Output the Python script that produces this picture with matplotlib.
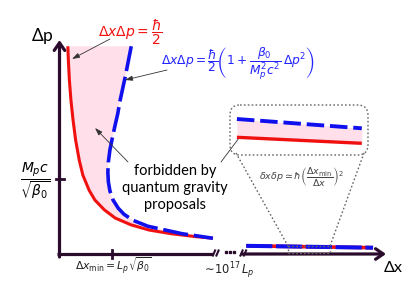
import matplotlib
matplotlib.use('Agg')
import matplotlib.pyplot as plt
from matplotlib.patches import FancyBboxPatch, Rectangle

# ---------------- data (Δx in units of Δx_min, Δp in units of M_p c/sqrt(beta0)) ----------
red_dx = [0.16, 0.17, 0.19, 0.22, 0.26, 0.31, 0.38, 0.45, 0.57, 0.68, 0.86, 1.07, 1.37, 1.72, 2.15, 2.64, 2.95]
red_dp = [2.77, 2.59, 2.32, 2.05, 1.79, 1.52, 1.25, 1.05, 0.85, 0.72, 0.59, 0.48, 0.39, 0.32, 0.27, 0.23, 0.21]

blue_dx = [1.38, 1.32, 1.26, 1.21, 1.16, 1.12, 1.07, 1.02, 0.97, 0.94, 0.93, 0.94, 0.97, 1.03, 1.13, 1.24,
           1.41, 1.70, 2.03, 2.36, 2.66, 2.95]
blue_dp = [2.77, 2.56, 2.35, 2.19, 2.03, 1.87, 1.72, 1.56, 1.39, 1.23, 1.09, 0.96, 0.84, 0.72, 0.61, 0.53,
           0.45, 0.37, 0.32, 0.27, 0.24, 0.21]

# far region (after the axis break, ~1e17 L_p), in broken-axis display units
far_dx = [3.59, 6.03]
far_red_dp = [0.109, 0.084]
far_blue_dp = [0.109, 0.084]

# zoomed inset (normalised inset units)
inset_x = [0.05, 0.955]
inset_blue = [0.72, 0.534]
inset_red = [0.354, 0.234]

tick_dx = 1.0
tick_dp = 1.0

# ---------------- styling ----------------
W, H = 415, 300
RED = '#f01010'
BLUE = '#1010ee'
AXC = '#2b0b2b'
PINK = '#ffe0ea'
GRAY = '#444444'
plt.rcParams['font.family'] = ['Lato', 'DejaVu Sans']
plt.rcParams['mathtext.fontset'] = 'dejavusans'

fig = plt.figure(figsize=(W / 100, H / 100), dpi=100)

x0px, y0px, ux, uy = 59.5, 254.0, 52.0, 75.0
def X(px):
    return (px - x0px) / ux
def Y(py):
    return (y0px - py) / uy

ax = fig.add_axes([0, 0, 1, 1])
ax.set_axis_off()
ax.set_xlim(X(0), X(W))
ax.set_ylim(Y(H), Y(0))

# forbidden region
poly_x = red_dx + blue_dx[::-1]
poly_y = red_dp + blue_dp[::-1]
ax.fill(poly_x, poly_y, color=PINK, lw=0, zorder=1)
ax.plot(red_dx, red_dp, color=RED, lw=2.2, zorder=3, solid_capstyle='butt')
ax.plot(blue_dx, blue_dp, color=BLUE, lw=2.6, zorder=4, dashes=(7.0, 1.6), dash_capstyle='butt')

ax.plot(far_dx, far_red_dp, color=RED, lw=2.6, zorder=3, solid_capstyle='butt')
ax.plot(far_dx, far_blue_dp, color=BLUE, lw=2.9, zorder=4, dashes=(6.5, 0.9), dash_capstyle='butt')

# axes
ap = dict(arrowstyle='->,head_length=0.55,head_width=0.38', lw=2.3, color=AXC, shrinkA=0, shrinkB=0)
ax.annotate('', xy=(0, Y(40)), xytext=(0, Y(257)), arrowprops=ap, zorder=5)
ax.plot([X(57), X(213)], [0, 0], color=AXC, lw=2.3, zorder=5, solid_capstyle='butt')
ax.annotate('', xy=(X(386), 0), xytext=(X(242), 0), arrowprops=ap, zorder=5)
# ticks
ax.plot([X(55.5), X(63.5)], [tick_dp, tick_dp], color=AXC, lw=2.0, zorder=5)
ax.plot([tick_dx, tick_dx], [Y(250), Y(258)], color=AXC, lw=2.0, zorder=5)

# overlay for decorations
ov = fig.add_axes([0, 0, 1, 1])
ov.set_axis_off()
ov.set_xlim(0, W)
ov.set_ylim(H, 0)
ov.patch.set_alpha(0)

# axis break
for (xa, xb) in [(212.5, 215.5), (216, 219), (240, 243), (243.5, 246.5)]:
    ov.plot([xa, xb], [256.5, 249.5], color=AXC, lw=1.5, solid_capstyle='butt')
ov.plot([226, 230, 234], [251.5, 251.5, 251.5], ls='none', marker='s', ms=2.0, color=AXC)

# inset box and connection lines
box = FancyBboxPatch((230, 105), 138, 50, boxstyle='round,pad=0,rounding_size=10',
                     fc='none', ec='#666666', lw=1.0, ls=(0, (1.2, 1.6)))
ov.add_patch(box)
dot = dict(color='#666666', lw=1.0, ls=(0, (1.2, 1.6)))
ov.plot([236, 288], [153, 246], **dot)
ov.plot([364, 330], [153, 246], **dot)
ov.add_patch(Rectangle((288, 245.5), 42, 7, fc='none', ec='#666666', lw=1.0, ls=(0, (1.2, 1.6))))

ins = fig.add_axes([230 / W, 1 - 155 / H, 138 / W, 50 / H])
ins.set_axis_off()
ins.set_xlim(0, 1)
ins.set_ylim(0, 1)
ins.patch.set_alpha(0)
ins.fill_between(inset_x, inset_red, inset_blue, color=PINK, lw=0)
ins.plot(inset_x, inset_red, color=RED, lw=2.4, solid_capstyle='butt')
ins.plot(inset_x, inset_blue, color=BLUE, lw=2.8, dashes=(4.5, 1.5), dash_capstyle='butt')

# annotation arrows
thin = dict(arrowstyle='-|>,head_length=0.45,head_width=0.15', lw=0.6, color='#333333',
            shrinkA=0, shrinkB=0)
for (s, e) in [((110, 39), (72, 59)), ((167, 70), (125, 80)), ((128, 162), (95, 128)),
               ((221, 162), (245, 130))]:
    ov.annotate('', xy=e, xytext=s, arrowprops=thin)

# texts
ov.text(42.5, 41, r'$\mathregular{\Delta p}$', fontsize=12.5, ha='center', va='baseline', color='black')
ov.text(393, 272, r'$\mathregular{\Delta x}$', fontsize=11.5, ha='center', va='baseline', color='black')
ov.text(130.5, 32, r'$\Delta x\Delta p=\dfrac{\hbar}{2}$', fontsize=10, ha='center', va='center', color=RED)
ov.text(238, 64, r'$\Delta x\Delta p=\dfrac{\hbar}{2}\left(1+\dfrac{\beta_0}{M_p^2c^2}\,\Delta p^2\right)$',
        fontsize=8.8, ha='center', va='center', color='#2424ff')
ov.text(175, 188, 'forbidden by\nquantum gravity\nproposals', fontsize=10.5, ha='center', va='center',
        linespacing=1.25, color='black')
ov.text(35, 181, r'$\dfrac{M_p c}{\sqrt{\beta_0}}$', fontsize=10, ha='center', va='center', color='black')
ov.text(113, 266, r'$\Delta x_{\mathrm{min}}=L_p\sqrt{\beta_0}$', fontsize=7.8, ha='center', va='center',
        color='#222222')
ov.text(228, 271, r'$\sim\!10^{17}\,L_p$', fontsize=8.3, ha='center', va='center', color='#222222')
ov.text(301, 176, r'$\delta x\delta p\simeq\hbar\left(\dfrac{\Delta x_{\mathrm{min}}}{\Delta x}\right)^2$',
        fontsize=6.8, ha='center', va='center', color=GRAY)

fig.savefig('out.png', dpi=100)
